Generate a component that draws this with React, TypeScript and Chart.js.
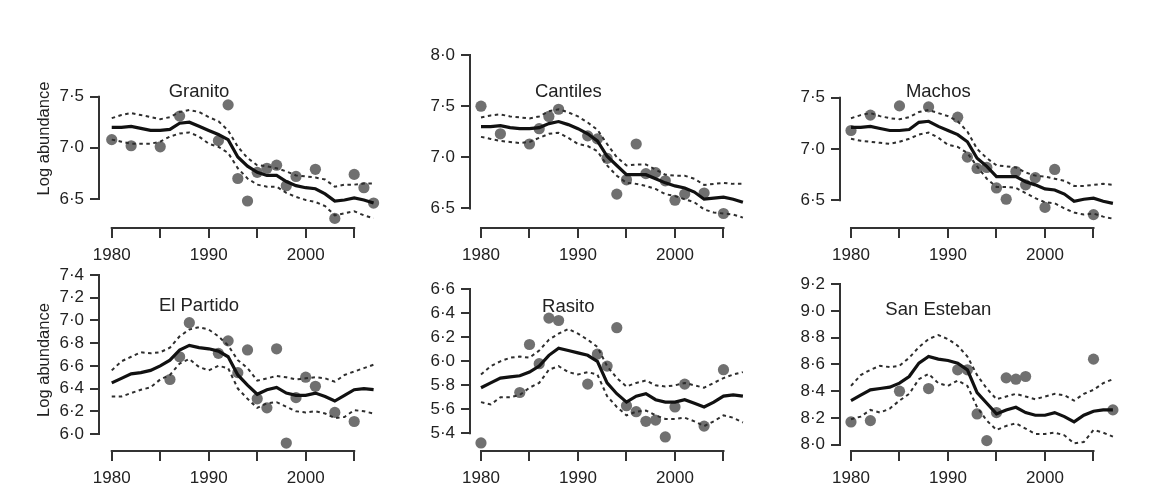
import React, { useEffect, useRef } from 'react';
import { Chart, registerables } from 'chart.js';
Chart.register(...registerables);

// ---------- data ----------
const YEARS = [1980, 1981, 1982, 1983, 1984, 1985, 1986, 1987, 1988, 1989, 1990, 1991, 1992, 1993,
  1994, 1995, 1996, 1997, 1998, 1999, 2000, 2001, 2002, 2003, 2004, 2005, 2006, 2007];
const X_TICKS = [1980, 1985, 1990, 1995, 2000, 2005];
const X_TICK_LABELS = ['1980', '', '1990', '', '2000', ''];

// Granito
const GRANITO_PT_YEARS = [1980, 1982, 1985, 1987, 1991, 1992, 1993, 1994, 1995, 1996, 1997, 1998, 1999, 2001, 2003, 2005, 2006, 2007];
const GRANITO_PT = [7.08, 7.02, 7.01, 7.31, 7.07, 7.42, 6.70, 6.48, 6.76, 6.80, 6.83, 6.63, 6.72, 6.79, 6.31, 6.74, 6.61, 6.46];
const GRANITO_FIT = [7.20, 7.20, 7.21, 7.19, 7.17, 7.17, 7.18, 7.24, 7.25, 7.21, 7.17, 7.13, 7.08, 6.91, 6.82, 6.76, 6.73, 6.73, 6.67, 6.63, 6.61, 6.60, 6.55, 6.48, 6.49, 6.51, 6.49, 6.46];
const GRANITO_UP = [7.29, 7.32, 7.34, 7.32, 7.30, 7.28, 7.30, 7.35, 7.37, 7.35, 7.30, 7.26, 7.17, 7.01, 6.90, 6.83, 6.82, 6.80, 6.77, 6.73, 6.72, 6.71, 6.69, 6.62, 6.64, 6.64, 6.65, 6.65];
const GRANITO_LO = [7.08, 7.06, 7.04, 7.04, 7.04, 7.06, 7.11, 7.14, 7.15, 7.11, 7.04, 7.01, 6.95, 6.80, 6.70, 6.64, 6.62, 6.62, 6.56, 6.52, 6.49, 6.47, 6.43, 6.34, 6.36, 6.38, 6.34, 6.31];
const GRANITO_Y_TICKS = [6.5, 7.0, 7.5];

// Cantiles
const CANTILES_PT_YEARS = [1980, 1982, 1985, 1986, 1987, 1988, 1991, 1992, 1993, 1994, 1995, 1996, 1997, 1998, 1999, 2000, 2001, 2003, 2005];
const CANTILES_PT = [7.50, 7.23, 7.13, 7.28, 7.40, 7.47, 7.21, 7.18, 6.99, 6.64, 6.78, 7.13, 6.84, 6.85, 6.77, 6.58, 6.64, 6.65, 6.45];
const CANTILES_FIT = [7.30, 7.30, 7.31, 7.29, 7.28, 7.28, 7.29, 7.33, 7.35, 7.32, 7.28, 7.23, 7.16, 7.01, 6.92, 6.83, 6.83, 6.83, 6.79, 6.75, 6.72, 6.70, 6.66, 6.59, 6.60, 6.61, 6.59, 6.56];
const CANTILES_UP = [7.39, 7.41, 7.42, 7.40, 7.39, 7.38, 7.40, 7.45, 7.47, 7.44, 7.40, 7.34, 7.27, 7.13, 7.00, 6.92, 6.93, 6.93, 6.88, 6.83, 6.82, 6.82, 6.79, 6.73, 6.74, 6.75, 6.74, 6.74];
const CANTILES_LO = [7.20, 7.18, 7.16, 7.15, 7.14, 7.15, 7.19, 7.23, 7.24, 7.19, 7.13, 7.11, 7.06, 6.92, 6.82, 6.75, 6.74, 6.72, 6.69, 6.64, 6.62, 6.59, 6.56, 6.49, 6.46, 6.45, 6.44, 6.41];
const CANTILES_Y_TICKS = [6.5, 7.0, 7.5, 8.0];

// Machos
const MACHOS_PT_YEARS = [1980, 1982, 1985, 1988, 1991, 1992, 1993, 1994, 1995, 1996, 1997, 1998, 1999, 2000, 2001, 2005];
const MACHOS_PT = [7.18, 7.33, 7.42, 7.41, 7.31, 6.92, 6.81, 6.82, 6.62, 6.51, 6.78, 6.65, 6.72, 6.43, 6.80, 6.36];
const MACHOS_FIT = [7.21, 7.21, 7.22, 7.20, 7.18, 7.18, 7.19, 7.26, 7.27, 7.22, 7.18, 7.14, 7.07, 6.91, 6.83, 6.73, 6.73, 6.73, 6.68, 6.65, 6.61, 6.60, 6.56, 6.49, 6.51, 6.52, 6.49, 6.47];
const MACHOS_UP = [7.30, 7.33, 7.35, 7.32, 7.30, 7.29, 7.31, 7.36, 7.38, 7.35, 7.32, 7.27, 7.17, 7.00, 6.91, 6.84, 6.83, 6.82, 6.77, 6.74, 6.73, 6.71, 6.69, 6.64, 6.64, 6.65, 6.66, 6.65];
const MACHOS_LO = [7.10, 7.08, 7.07, 7.06, 7.05, 7.07, 7.10, 7.14, 7.16, 7.11, 7.04, 7.02, 6.96, 6.83, 6.71, 6.63, 6.63, 6.62, 6.57, 6.52, 6.48, 6.47, 6.42, 6.38, 6.36, 6.37, 6.34, 6.32];
const MACHOS_Y_TICKS = [6.5, 7.0, 7.5];

// El Partido
const PARTIDO_PT_YEARS = [1986, 1987, 1988, 1991, 1992, 1993, 1994, 1995, 1996, 1997, 1998, 1999, 2000, 2001, 2003, 2005];
const PARTIDO_PT = [6.48, 6.68, 6.98, 6.71, 6.82, 6.54, 6.74, 6.31, 6.23, 6.75, 5.92, 6.32, 6.50, 6.42, 6.19, 6.11];
const PARTIDO_FIT = [6.45, 6.49, 6.53, 6.54, 6.56, 6.60, 6.65, 6.74, 6.78, 6.76, 6.75, 6.73, 6.68, 6.52, 6.43, 6.35, 6.39, 6.41, 6.36, 6.34, 6.34, 6.36, 6.33, 6.29, 6.34, 6.39, 6.40, 6.39];
const PARTIDO_UP = [6.56, 6.64, 6.68, 6.72, 6.71, 6.72, 6.76, 6.86, 6.92, 6.94, 6.92, 6.86, 6.78, 6.65, 6.58, 6.47, 6.49, 6.51, 6.50, 6.48, 6.49, 6.50, 6.49, 6.46, 6.52, 6.55, 6.58, 6.61];
const PARTIDO_LO = [6.33, 6.33, 6.36, 6.39, 6.41, 6.48, 6.52, 6.62, 6.66, 6.59, 6.56, 6.60, 6.58, 6.40, 6.31, 6.23, 6.27, 6.28, 6.24, 6.20, 6.19, 6.20, 6.18, 6.14, 6.15, 6.21, 6.20, 6.18];
const PARTIDO_Y_TICKS = [6.0, 6.2, 6.4, 6.6, 6.8, 7.0, 7.2, 7.4];

// Rasito
const RASITO_PT_YEARS = [1980, 1984, 1985, 1986, 1987, 1988, 1991, 1992, 1993, 1994, 1995, 1996, 1997, 1998, 1999, 2000, 2001, 2003, 2005];
const RASITO_PT = [5.32, 5.74, 6.14, 5.98, 6.36, 6.34, 5.81, 6.06, 5.96, 6.28, 5.63, 5.58, 5.50, 5.51, 5.37, 5.62, 5.81, 5.46, 5.93];
const RASITO_FIT = [5.78, 5.82, 5.86, 5.87, 5.88, 5.91, 5.96, 6.05, 6.11, 6.09, 6.07, 6.05, 6.00, 5.82, 5.73, 5.66, 5.71, 5.73, 5.68, 5.66, 5.66, 5.68, 5.65, 5.62, 5.66, 5.71, 5.72, 5.71];
const RASITO_UP = [5.89, 5.96, 6.00, 6.03, 6.04, 6.03, 6.09, 6.18, 6.23, 6.27, 6.23, 6.18, 6.12, 5.96, 5.86, 5.79, 5.82, 5.84, 5.80, 5.79, 5.80, 5.82, 5.80, 5.78, 5.82, 5.86, 5.89, 5.91];
const RASITO_LO = [5.66, 5.64, 5.70, 5.70, 5.72, 5.78, 5.82, 5.93, 5.96, 5.91, 5.89, 5.91, 5.89, 5.71, 5.62, 5.55, 5.58, 5.59, 5.55, 5.52, 5.52, 5.53, 5.50, 5.46, 5.50, 5.55, 5.53, 5.49];
const RASITO_Y_TICKS = [5.4, 5.6, 5.8, 6.0, 6.2, 6.4, 6.6];

// San Esteban
const ESTEBAN_PT_YEARS = [1980, 1982, 1985, 1988, 1991, 1992, 1993, 1994, 1995, 1996, 1997, 1998, 2005, 2007];
const ESTEBAN_PT = [8.17, 8.18, 8.40, 8.42, 8.56, 8.56, 8.23, 8.03, 8.24, 8.50, 8.49, 8.51, 8.64, 8.26];
const ESTEBAN_FIT = [8.33, 8.37, 8.41, 8.42, 8.43, 8.46, 8.51, 8.61, 8.66, 8.64, 8.63, 8.61, 8.56, 8.39, 8.31, 8.23, 8.26, 8.28, 8.24, 8.22, 8.22, 8.24, 8.21, 8.17, 8.22, 8.25, 8.26, 8.26];
const ESTEBAN_UP = [8.44, 8.52, 8.56, 8.59, 8.58, 8.59, 8.65, 8.73, 8.79, 8.82, 8.79, 8.74, 8.66, 8.52, 8.42, 8.34, 8.36, 8.38, 8.36, 8.34, 8.36, 8.38, 8.37, 8.33, 8.38, 8.41, 8.46, 8.49];
const ESTEBAN_LO = [8.19, 8.21, 8.26, 8.24, 8.27, 8.33, 8.38, 8.49, 8.53, 8.46, 8.44, 8.48, 8.44, 8.28, 8.18, 8.11, 8.14, 8.16, 8.12, 8.08, 8.08, 8.09, 8.07, 8.01, 8.02, 8.11, 8.09, 8.06];
const ESTEBAN_Y_TICKS = [8.0, 8.2, 8.4, 8.6, 8.8, 9.0, 9.2];

// ---------- styling / layout ----------
const FONT = '"Liberation Sans", Arial, Helvetica, sans-serif';
const TEXT = '#222222';
const AXIS = '#333333';
const TICK_SIZE = 17;

const COLS = [
  { left: 0, width: 400, yAxisW: 100, xmin: 1978.79, padRight: 16.7, yTitle: true },
  { left: 400, width: 380, yAxisW: 71, xmin: 1978.97, padRight: 27.4, yTitle: false },
  { left: 780, width: 385, yAxisW: 61, xmin: 1978.97, padRight: 42.4, yTitle: false },
];
const ROWS = [
  { top: 0, height: 272, padTop: 50, xAxisH: 45 },
  { top: 240, height: 260, padTop: 30, xAxisH: 50 },
];

const PANELS = [
  { name: 'Granito', row: 0, col: 0, ymin: 6.226, ymax: 7.956, yTicks: GRANITO_Y_TICKS, ptX: GRANITO_PT_YEARS, pt: GRANITO_PT, fit: GRANITO_FIT, up: GRANITO_UP, lo: GRANITO_LO, titleDy: 42 },
  { name: 'Cantiles', row: 0, col: 1, ymin: 6.318, ymax: 8.05, yTicks: CANTILES_Y_TICKS, ptX: CANTILES_PT_YEARS, pt: CANTILES_PT, fit: CANTILES_FIT, up: CANTILES_UP, lo: CANTILES_LO, titleDy: 42 },
  { name: 'Machos', row: 0, col: 2, ymin: 6.239, ymax: 7.965, yTicks: MACHOS_Y_TICKS, ptX: MACHOS_PT_YEARS, pt: MACHOS_PT, fit: MACHOS_FIT, up: MACHOS_UP, lo: MACHOS_LO, titleDy: 42 },
  { name: 'El Partido', row: 1, col: 0, ymin: 5.859, ymax: 7.444, yTicks: PARTIDO_Y_TICKS, ptX: PARTIDO_PT_YEARS, pt: PARTIDO_PT, fit: PARTIDO_FIT, up: PARTIDO_UP, lo: PARTIDO_LO, titleDy: 36 },
  { name: 'Rasito', row: 1, col: 1, ymin: 5.261, ymax: 6.761, yTicks: RASITO_Y_TICKS, ptX: RASITO_PT_YEARS, pt: RASITO_PT, fit: RASITO_FIT, up: RASITO_UP, lo: RASITO_LO, titleDy: 37 },
  { name: 'San Esteban', row: 1, col: 2, ymin: 7.96, ymax: 9.307, yTicks: ESTEBAN_Y_TICKS, ptX: ESTEBAN_PT_YEARS, pt: ESTEBAN_PT, fit: ESTEBAN_FIT, up: ESTEBAN_UP, lo: ESTEBAN_LO, titleDy: 40 },
];

const fmt = (v: number) => v.toFixed(1).replace('.', '\u00B7');

// draws R-style detached axis lines (tick-to-tick) and the panel label
const rAxesPlugin = {
  id: 'rAxes',
  afterDraw(chart: any, _args: any, opts: any) {
    const { ctx } = chart;
    const xs = chart.scales.x;
    const ys = chart.scales.y;
    ctx.save();
    ctx.strokeStyle = AXIS;
    ctx.lineWidth = 2;
    const yt = ys.ticks;
    const ya = ys.getPixelForValue(yt[0].value);
    const yb = ys.getPixelForValue(yt[yt.length - 1].value);
    ctx.beginPath();
    ctx.moveTo(ys.right - 1, ya + 1);
    ctx.lineTo(ys.right - 1, yb - 1);
    ctx.stroke();
    const xt = xs.ticks;
    const xa = xs.getPixelForValue(xt[0].value);
    const xb = xs.getPixelForValue(xt[xt.length - 1].value);
    ctx.beginPath();
    ctx.moveTo(xa - 1, xs.top + 1);
    ctx.lineTo(xb + 1, xs.top + 1);
    ctx.stroke();
    ctx.fillStyle = TEXT;
    ctx.font = `18.5px ${FONT}`;
    ctx.textAlign = 'center';
    ctx.textBaseline = 'middle';
    ctx.fillText(opts.text, xs.getPixelForValue(opts.x), chart.chartArea.top + opts.dy);
    ctx.restore();
  },
};

function Panel({ p }: { p: any }) {
  const ref = useRef<HTMLCanvasElement>(null);
  const col = COLS[p.col];
  const row = ROWS[p.row];
  useEffect(() => {
    if (!ref.current) return;
    const pts = (xs: number[], ys: number[]) => xs.map((x, i) => ({ x, y: ys[i] }));
    const chart = new Chart(ref.current, {
      type: 'scatter',
      data: {
        datasets: [
          {
            data: pts(p.ptX, p.pt),
            showLine: false,
            pointRadius: 5.6,
            pointBackgroundColor: '#707070',
            pointBorderWidth: 0,
            order: 4,
            clip: false,
          } as any,
          {
            data: pts(YEARS, p.up),
            showLine: true,
            borderColor: '#2e2e2e',
            borderWidth: 2,
            borderDash: [3.5, 3.5],
            pointRadius: 0,
            order: 3,
            clip: false,
          },
          {
            data: pts(YEARS, p.lo),
            showLine: true,
            borderColor: '#2e2e2e',
            borderWidth: 2,
            borderDash: [3.5, 3.5],
            pointRadius: 0,
            order: 2,
            clip: false,
          },
          {
            data: pts(YEARS, p.fit),
            showLine: true,
            borderColor: '#111111',
            borderWidth: 3.2,
            pointRadius: 0,
            order: 1,
            clip: false,
          },
        ],
      },
      options: {
        responsive: false,
        animation: false,
        devicePixelRatio: 1,
        events: [],
        layout: { padding: { top: row.padTop, right: col.padRight, left: 0, bottom: 0 } },
        plugins: {
          legend: { display: false },
          tooltip: { enabled: false },
          rAxes: { text: p.name, x: 1989, dy: p.titleDy },
        } as any,
        scales: {
          x: {
            type: 'linear',
            min: col.xmin,
            max: 2008,
            afterBuildTicks: (s: any) => { s.ticks = X_TICKS.map((v) => ({ value: v })); },
            afterFit: (s: any) => { s.height = row.xAxisH; s.paddingLeft = 0; s.paddingRight = 0; s.paddingTop = 0; s.paddingBottom = 0; },
            grid: { display: true, drawOnChartArea: false, drawTicks: true, tickLength: 11, color: AXIS, lineWidth: 2 },
            border: { display: false },
            ticks: {
              autoSkip: false,
              maxRotation: 0,
              padding: 7,
              color: TEXT,
              font: { family: FONT, size: TICK_SIZE },
              callback: (_v: any, i: number) => X_TICK_LABELS[i],
            },
          },
          y: {
            type: 'linear',
            min: p.ymin,
            max: p.ymax,
            afterBuildTicks: (s: any) => { s.ticks = p.yTicks.map((v: number) => ({ value: v })); },
            afterFit: (s: any) => { s.width = col.yAxisW; s.paddingTop = 0; s.paddingBottom = 0; s.paddingLeft = 0; s.paddingRight = 0; },
            grid: { display: true, drawOnChartArea: false, drawTicks: true, tickLength: 10, color: AXIS, lineWidth: 2 },
            border: { display: false },
            ticks: {
              autoSkip: false,
              padding: 6,
              color: TEXT,
              font: { family: FONT, size: TICK_SIZE },
              callback: (v: any) => fmt(Number(v)),
            },
            title: {
              display: col.yTitle,
              text: 'Log abundance',
              color: TEXT,
              font: { family: FONT, size: 16.5 },
              padding: { top: 35, bottom: 0 },
            },
          },
        },
      },
      plugins: [rAxesPlugin],
    } as any);
    return () => chart.destroy();
  }, []);
  return (
    <canvas
      ref={ref}
      width={col.width}
      height={row.height}
      style={{ position: 'absolute', left: col.left, top: row.top, width: col.width, height: row.height }}
    />
  );
}

export default function App() {
  return (
    <div style={{ position: 'fixed', left: 0, top: 0, width: 1165, height: 500, background: '#ffffff', overflow: 'hidden' }}>
      {PANELS.map((p) => (
        <Panel key={p.name} p={p} />
      ))}
    </div>
  );
}
